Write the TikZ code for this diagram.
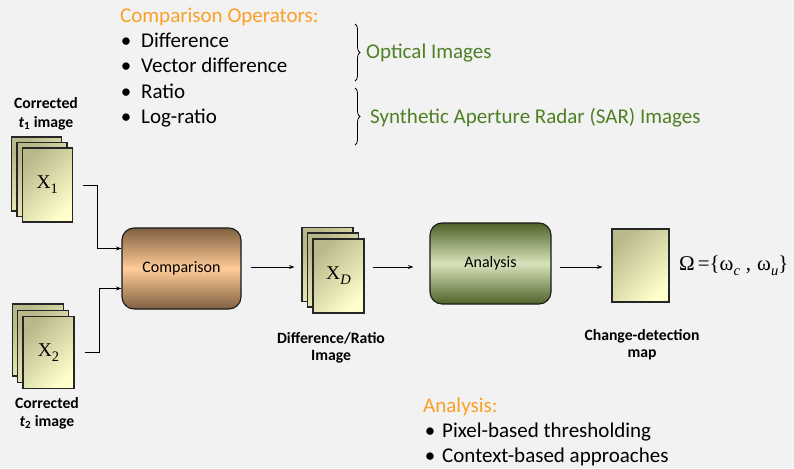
\documentclass[tikz,border=0pt]{standalone}
\usepackage{fontspec}
\setmainfont{Carlito}
\newfontfamily\tnr{Liberation Serif}
\usetikzlibrary{arrows.meta,calc,decorations.pathreplacing}
\definecolor{bgc}{RGB}{242,242,242}
\definecolor{olv}{RGB}{184,184,138}
\definecolor{lyel}{RGB}{255,255,204}
\definecolor{brdark}{RGB}{128,96,64}
\definecolor{brlight}{RGB}{255,204,153}
\definecolor{grdark}{RGB}{79,98,40}
\definecolor{grlight}{RGB}{216,228,188}
\definecolor{orng}{RGB}{250,160,40}
\definecolor{grtxt}{RGB}{78,128,36}
\newcommand{\lowsub}[1]{\raisebox{-5pt}{\fontsize{14.5}{14.5}\selectfont #1}}
\begin{document}
\begin{tikzpicture}[x=1pt,y=-1pt,
  page/.style={draw=black!85, line width=1.1pt, top color=olv, bottom color=lyel, shading angle=45,
    minimum width=50pt, minimum height=74pt, inner sep=0pt, font=\tnr\fontsize{19.5}{19.5}\selectfont},
  procbox/.style={draw=black!90, line width=1.1pt, rounded corners=12pt, inner sep=0pt,
    font=\fontsize{16}{18}\selectfont},
  lbl/.style={anchor=base, inner sep=0pt, font=\bfseries\fontsize{15.7}{18}\selectfont},
  txt/.style={anchor=base west, inner sep=0pt, font=\fontsize{21}{24}\selectfont},
  bul/.style={anchor=base, inner sep=0pt, font=\fontsize{21}{24}\selectfont},
  arr/.style={line width=1pt, -{Stealth[length=5.5pt,width=4pt]}},
  brc/.style={decorate, decoration={brace, amplitude=5pt}, line width=0.8pt}
]
\fill[bgc] (0,0) rectangle (794,468);
\useasboundingbox (0,0) rectangle (794,468);

% top text
\node[txt, text=orng] (ophead) at (120,23) {Comparison Operators:};
\node[bul] (b1) at (126,48) {•};
\node[txt] (t1) at (141,48) {Difference};
\node[bul] (b2) at (126,73) {•};
\node[txt] (t2) at (141,73) {Vector difference};
\node[bul] (b3) at (126,99) {•};
\node[txt] (t3) at (141,99) {Ratio};
\node[bul] (b4) at (126,124) {•};
\node[txt] (t4) at (141,124) {Log-ratio};
\coordinate (br1a) at (355,24);
\coordinate (br1b) at (355,81);
\coordinate (br2a) at (355,88);
\coordinate (br2b) at (355,145);
\draw[brc] (br1a) -- (br1b);
\draw[brc] (br2a) -- (br2b);
\node[txt, text=grtxt] (opt) at (366,59) {Optical Images};
\node[txt, text=grtxt] (sar) at (370,123) {Synthetic Aperture Radar (SAR) Images};

% stack 1
\node[lbl] (c1a) at (46,109) {Corrected};
\node[lbl] (c1b) at (46,127) {\textit{t}\textsubscript{1} image};
\node[page] (s1a) at (36.5,174) {};
\node[page] (s1b) at (42,179.5) {};
\node[page] (s1c) at (47.3,185) {X\lowsub{1}};

% stack 2
\node[page, minimum width=51pt, minimum height=72pt] (s2a) at (38,340) {};
\node[page, minimum width=51pt, minimum height=72pt] (s2b) at (43,346.5) {};
\node[page, minimum width=51pt, minimum height=72pt] (s2c) at (48.5,352.5) {X\lowsub{2}};
\node[lbl] (c2a) at (47,408) {Corrected};
\node[lbl] (c2b) at (47,426) {\textit{t}\textsubscript{2} image};

% comparison
\node[procbox, minimum width=119pt, minimum height=81pt, top color=brdark, bottom color=brdark, middle color=brlight] (comp) at (181.5,268.5) {Comparison};

\draw[arr] ([xshift=10pt]s1c.east) -- ++(15,0) |- ([yshift=20pt]comp.west);
\draw[arr] ([xshift=10pt]s2c.east) -- ++(15,0) |- ([yshift=-20pt]comp.west);

% stack D
\node[page, minimum width=51pt] (sDa) at (327.5,264.5) {};
\node[page, minimum width=51pt] (sDb) at (333,270) {};
\node[page, minimum width=51pt] (sDc) at (338.5,276) {X\lowsub{\textit{D}}};
\node[lbl] (dra) at (331,343) {Difference/Ratio};
\node[lbl] (drb) at (331,360) {Image};

% analysis
\node[procbox, minimum width=121pt, minimum height=81pt, top color=grdark, bottom color=grdark, middle color=grlight] (anl) at (490.5,263.5) {Analysis};

% map
\node[page, minimum width=57pt, minimum height=73pt] (map) at (640.5,265.5) {};
\node[lbl] (cda) at (642,340) {Change-detection};
\node[lbl] (cdb) at (642,357) {map};
\node[anchor=base west, inner sep=0pt, font=\tnr\fontsize{21}{24}\selectfont] (omega) at (679,270)
  {Ω\hspace{3pt}=\{ω\lowsub{\textit{c}}\hspace{6pt},\hspace{6pt}ω\lowsub{\textit{u}}\}};

\coordinate (row) at (0,267);
\draw[arr] ($(comp.east |- row)+(9,0)$) -- ($(sDa.west |- row)+(-7,0)$);
\draw[arr] ($(sDc.east |- row)+(8,0)$) -- ($(anl.west |- row)+(-16,0)$);
\draw[arr] ($(anl.east |- row)+(8,0)$) -- ($(map.west |- row)+(-9,0)$);

% bottom text
\node[txt, text=orng] (anhead) at (423,412) {Analysis:};
\node[bul] (b5) at (430,437) {•};
\node[txt] (t5) at (442,437) {Pixel-based thresholding};
\node[bul] (b6) at (430,462) {•};
\node[txt] (t6) at (442,462) {Context-based approaches};
\end{tikzpicture}
\end{document}
